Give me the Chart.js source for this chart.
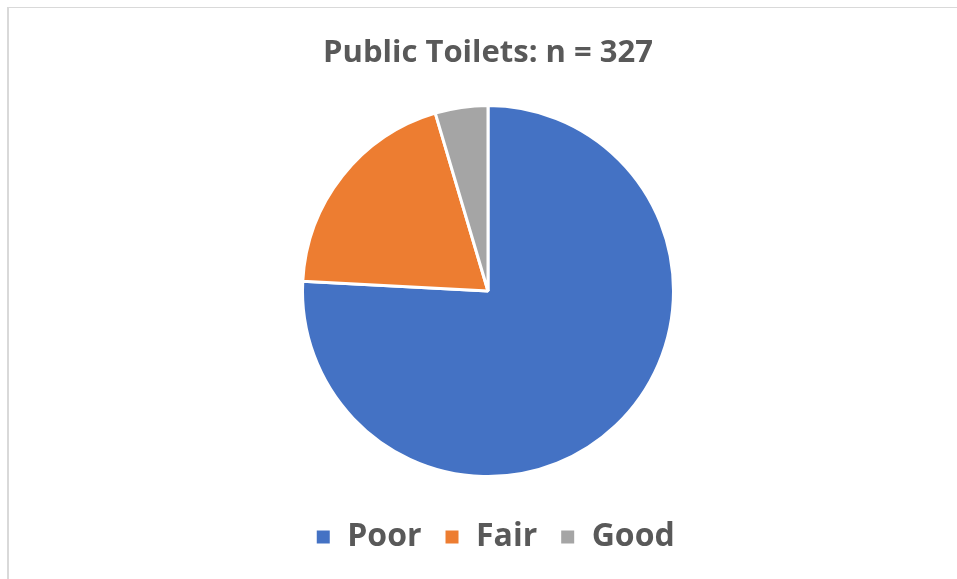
<!DOCTYPE html>
<html>
<head>
<meta charset="utf-8">
<script src="https://cdn.jsdelivr.net/npm/chart.js@4/dist/chart.umd.min.js"></script>
<style>
  html, body { margin: 0; padding: 0; background: #ffffff; overflow: hidden; }
  #wrap { position: absolute; left: 0; top: 0; width: 957px; height: 579px; }
  #frame {
    position: absolute; left: 7px; top: 7px; width: 1000px; height: 600px;
    border-top: 1px solid #d9d9d9; border-left: 2px solid #d9d9d9;
    box-sizing: border-box; pointer-events: none;
  }
</style>
</head>
<body>
<div id="wrap">
  <canvas id="chart" width="957" height="579"></canvas>
  <div id="frame"></div>
</div>
<script>
// Condition ratings of public toilets
const titleText = 'Public Toilets: n = 327';
const categories = ['Poor', 'Fair', 'Good'];
const counts = [248, 64, 15];
const sliceColors = ['#4472C4', '#ED7D31', '#A5A5A5'];

const textGray = '#595959';
const fontFamily = '"Open Sans", Lato, "Liberation Sans", sans-serif';

// Nudge the legend a little to the right of the pie's centre line
const legendShift = {
  id: 'legendShift',
  afterLayout(chart) {
    const lg = chart.legend;
    if (lg) { lg.left += 7; lg.right += 7; }
  }
};

new Chart(document.getElementById('chart'), {
  type: 'pie',
  data: {
    labels: categories,
    datasets: [{
      data: counts,
      backgroundColor: sliceColors,
      borderColor: '#ffffff',
      borderWidth: 3,
      hoverOffset: 0,
      radius: 185.5
    }]
  },
  plugins: [legendShift],
  options: {
    responsive: false,
    animation: false,
    events: [],
    layout: { padding: { left: 19, right: 0, top: 0, bottom: 16 } },
    plugins: {
      tooltip: { enabled: false },
      title: {
        display: true,
        text: titleText,
        color: textGray,
        font: { family: fontFamily, size: 31, weight: 'bold' },
        padding: { top: 34.5, bottom: 35.3 }
      },
      legend: {
        display: true,
        position: 'bottom',
        title: {
          display: true,
          text: '',
          font: { size: 10 },
          padding: { top: 11.5, bottom: 0 }
        },
        labels: {
          color: textGray,
          font: { family: fontFamily, size: 32, weight: 'bold' },
          boxWidth: 16,
          boxHeight: 16,
          padding: 22.5
        }
      }
    }
  }
});
</script>
</body>
</html>
